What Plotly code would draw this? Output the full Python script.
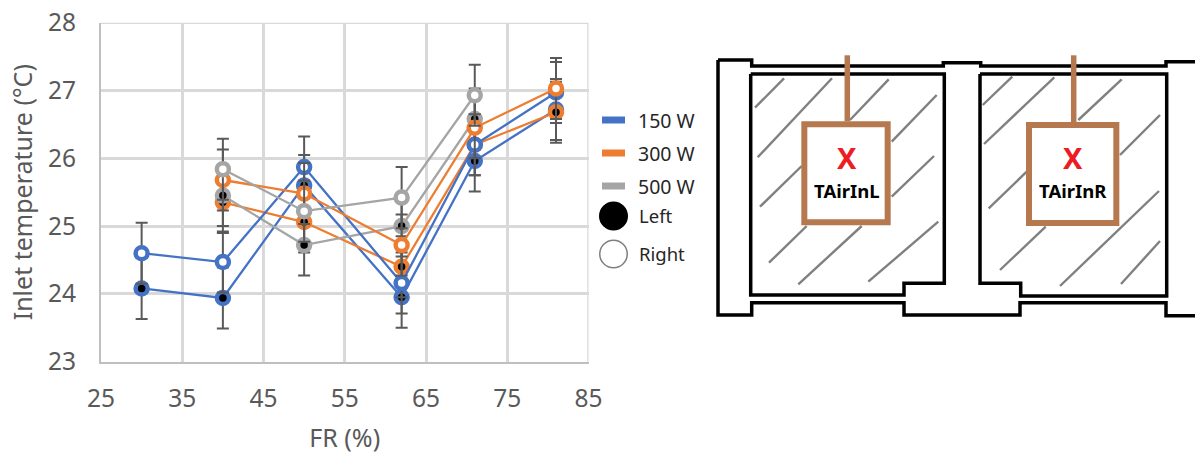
import plotly.graph_objects as go

W, H = 1195, 454
FONT = "Noto Sans"
TXT = "#595959"
GRID = "#D9D9D9"
AX = "#BFBFBF"

# ---- chart data ----
fr6 = [30, 40, 50, 62, 71, 81]
fr5 = [40, 50, 62, 71, 81]
fr4 = [40, 50, 62, 71]
left_150 = [24.08, 23.94, 25.60, 23.95, 25.96, 26.72]
right_150 = [24.60, 24.47, 25.87, 24.16, 26.20, 26.97]
left_300 = [25.35, 25.06, 24.40, 26.20, 26.68]
right_300 = [25.68, 25.48, 24.72, 26.45, 27.03]
left_500 = [25.45, 24.72, 25.00, 26.58]
right_500 = [25.84, 25.22, 25.42, 26.93]
err = 0.45
x_ticks = [25, 35, 45, 55, 65, 75, 85]
y_ticks = [23, 24, 25, 26, 27, 28]
BLUE, ORANGE, GRAY = "#4472C4", "#ED7D31", "#A5A5A5"

legend_series = ["150 W", "300 W", "500 W"]
legend_colors = [BLUE, ORANGE, GRAY]
legend_y = [120, 153, 186]
legend_side = ["Left", "Right"]
legend_side_y = [216, 254]

# ---- schematic geometry (pixels on the page) ----
def P(zx, zy):
    return 700 + zx / 3, 40 + zy / 3

walls = [
    [(54,60),(155,60),(155,78),(730,78),(730,68),(842,68),(842,78),(1398,78),(1398,65),(1485,65)],
    [(1485,827),(1398,827),(1398,788),(960,788),(960,825),(612,825),(612,788),(155,788),(155,825),(54,825),(54,60)],
    [(152,102),(733,102),(733,730),(612,730),(612,765),(152,765),(152,102)],
    [(840,102),(1400,102),(1400,768),(962,768),(962,730),(840,730),(840,102)],
]
hatches = [
    [(165,203),(252,115)], [(173,352),(396,115)], [(180,500),(305,378)], [(450,240),(566,118)],
    [(575,305),(710,165)], [(575,470),(702,348)], [(207,668),(320,558)], [(295,733),(485,558)],
    [(505,725),(715,545)], [(848,195),(937,110)], [(852,312),(1063,112)], [(1135,240),(1265,118)],
    [(1260,345),(1380,225)], [(866,505),(980,395)], [(900,690),(1037,560)], [(1080,738),(1377,453)],
    [(1263,732),(1380,603)],
]
boxes = [(313,253,563,547), (987,255,1249,549)]
stems = [[(442,46),(442,244)], [(1121,46),(1121,246)]]
box_labels = ["TAirInL", "TAirInR"]
box_cx = [440, 1120]

fig = go.Figure()

def series(x, y, color, name, filled):
    fig.add_trace(go.Scatter(
        x=x, y=y, mode="lines+markers", name=name, showlegend=False,
        line=dict(color=color, width=2.3),
        marker=dict(size=12, color="black" if filled else "white",
                    line=dict(color=color, width=4.5)),
        error_y=dict(type="constant", value=err, color=TXT, thickness=2, width=6),
        cliponaxis=False,
    ))

series(fr6, left_150, BLUE, "150 W Left", True)
series(fr5, left_300, ORANGE, "300 W Left", True)
series(fr4, left_500, GRAY, "500 W Left", True)
series(fr6, right_150, BLUE, "150 W Right", False)
series(fr5, right_300, ORANGE, "300 W Right", False)
series(fr4, right_500, GRAY, "500 W Right", False)

# Overlay subplot with a pixel-valued scale, for the legend and the schematic
ov = dict(xaxis="x2", yaxis="y2", showlegend=False, hoverinfo="skip")
fig.add_trace(go.Scatter(
    x=[613.5, 613.5], y=legend_side_y, mode="markers",
    marker=dict(size=27.5, color=["black", "white"], line=dict(color=["black", "#7F7F7F"], width=1.5)), **ov))

shapes = [
    dict(type="line", xref="x", yref="y", x0=25, x1=85, y0=28, y1=28, layer="below",
         line=dict(color=GRID, width=2.5)),
    dict(type="line", xref="x", yref="y", x0=85, x1=85, y0=23, y1=28, layer="below",
         line=dict(color=GRID, width=2.5)),
]
for name, color, y in zip(legend_series, legend_colors, legend_y):
    shapes.append(dict(type="line", xref="x2", yref="y2", x0=602, x1=625, y0=y, y1=y,
                       line=dict(color=color, width=7)))

def path(pts, color, width):
    d = "M" + " L".join("%.1f,%.1f" % P(*p) for p in pts)
    return dict(type="path", xref="x2", yref="y2", path=d, line=dict(color=color, width=width))

for h in hatches:
    shapes.append(path(h, "#808080", 2.4))
for w in walls:
    shapes.append(path(w, "black", 3.5))
BROWN = "#B5784F"
for s in stems:
    shapes.append(path(s, BROWN, 5.5))
for (a, b, c, d) in boxes:
    x0, y0 = P(a, b)
    x1, y1 = P(c, d)
    shapes.append(dict(type="rect", xref="x2", yref="y2", x0=x0, y0=y0, x1=x1, y1=y1,
                       fillcolor="white", line=dict(color=BROWN, width=6)))

ann = []
def text(x, y, s, size, color="#262626", bold=False, anchor="left"):
    ann.append(dict(xref="x2", yref="y2", x=x, y=y, text=f"<b>{s}</b>" if bold else s, showarrow=False,
                    xanchor=anchor, yanchor="middle", font=dict(family=FONT, size=size, color=color)))

for name, y in zip(legend_series, legend_y):
    text(636, y, name, 19.5)
for name, y in zip(legend_side, legend_side_y):
    text(637, y - 1, name, 18.5)
for cx, lab in zip(box_cx, box_labels):
    px, _ = P(cx, 0)
    text(px, 157, "X", 29, "#ED1C24", True, "center")
    text(px, 190, lab, 18.5, "black", True, "center")

fig.update_layout(
    width=W, height=H, autosize=False,
    margin=dict(l=0, r=0, t=0, b=0, pad=0, autoexpand=False),
    paper_bgcolor="white", plot_bgcolor="rgba(0,0,0,0)",
    showlegend=False,
    font=dict(family=FONT, color=TXT),
    shapes=shapes, annotations=ann,
    xaxis=dict(
        domain=[101 / W, 588.5 / W], range=[25, 85], tickvals=x_ticks, anchor="y",
        showgrid=True, gridcolor=GRID, gridwidth=2.5, zeroline=False,
        showline=True, linecolor=AX, linewidth=2, mirror=False,
        ticks="outside", ticklen=14, tickcolor="rgba(0,0,0,0)",
        tickfont=dict(size=24.5, color=TXT, family=FONT),
        title=dict(text="FR (%)", font=dict(size=25, color=TXT, family=FONT), standoff=16),
    ),
    yaxis=dict(
        domain=[1 - 361.7 / H, 1 - 22.7 / H], range=[23, 28], tickvals=y_ticks, anchor="x",
        showgrid=True, gridcolor=GRID, gridwidth=2.5, zeroline=False,
        showline=True, linecolor=AX, linewidth=2,
        ticks="outside", ticklen=18, tickcolor="rgba(0,0,0,0)",
        tickfont=dict(size=24.5, color=TXT, family=FONT),
        title=dict(text="Inlet temperature (°C)", font=dict(size=25, color=TXT, family=FONT), standoff=8),
    ),
    xaxis2=dict(domain=[0, 1], range=[0, W], visible=False, anchor="y2", fixedrange=True),
    yaxis2=dict(domain=[0, 1], range=[H, 0], visible=False, anchor="x2", fixedrange=True),
)

fig.write_html("out.html", config={"displayModeBar": False},
               post_script="document.body.style.margin='0';document.body.style.overflow='hidden';")
